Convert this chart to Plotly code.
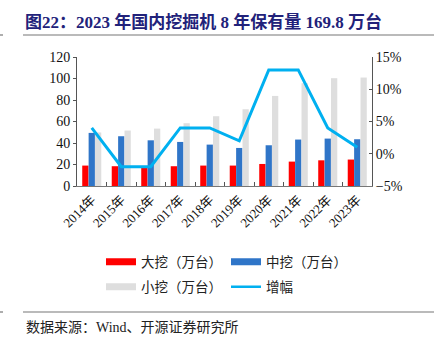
import plotly.graph_objects as go

years = ["2014年", "2015年", "2016年", "2017年", "2018年", "2019年", "2020年", "2021年", "2022年", "2023年"]
large = [19.0, 18.4, 17.8, 18.4, 19.0, 19.0, 20.5, 22.7, 23.9, 24.6]
medium = [49.4, 46.3, 42.5, 41.0, 38.5, 35.4, 37.9, 43.2, 44.1, 43.5]
small = [49.8, 51.6, 53.4, 58.4, 64.9, 71.4, 83.8, 95.6, 100.3, 100.9]
growth = [4.0, -2.0, -2.0, 4.0, 4.0, 2.0, 13.0, 13.0, 4.0, 1.0]

names = ["大挖（万台）", "中挖（万台）", "小挖（万台）", "增幅"]
colors = ["#FF0000", "#2F75C8", "#DEDEDE", "#00B0F0"]

# plot area in pixels
L, R, T, B = 77, 372, 57, 186
W, H = R - L, B - T
def px(x):
    return (x - L) / W
def py(y):
    return (B - y) / H

serif = "Liberation Serif, Noto Sans CJK SC, serif"
cjk = "Noto Sans CJK SC, sans-serif"

fig = go.Figure()
for vals, nm, col in zip([large, medium, small], names[:3], colors[:3]):
    fig.add_trace(go.Bar(x=years, y=vals, name=nm, marker=dict(color=col, line=dict(width=0)),
                         showlegend=False))
fig.add_trace(go.Scatter(x=years, y=growth, name=names[3], mode="lines", yaxis="y2",
                         line=dict(color=colors[3], width=3), showlegend=False))

# legend entries (rectangular swatches like the reference), one legend per entry
legend_ids = ["legend", "legend2", "legend3", "legend4"]
legend_pos = [(101, 262), (226, 262), (101, 287), (226, 287)]
for nm, col, lg, i in zip(names, colors, legend_ids, range(4)):
    fig.add_trace(go.Scatter(x=[None], y=[None], name=nm, mode="lines",
                             line=dict(color=col, width=7 if i < 3 else 2.5),
                             legend=lg, showlegend=True, hoverinfo="skip"))

legend_common = dict(orientation="h", xanchor="left", yanchor="middle", itemwidth=30,
                     bgcolor="rgba(0,0,0,0)", font=dict(family=cjk, size=13.5, color="#222"))
legends = {}
for lg, (lx, ly) in zip(legend_ids, legend_pos):
    legends[lg] = dict(x=px(lx), y=py(ly), **legend_common)

fig.update_layout(
    width=434, height=345,
    margin=dict(l=L, r=434 - R, t=T, b=345 - B),
    paper_bgcolor="white", plot_bgcolor="white",
    barmode="group", bargap=0.35, bargroupgap=0.02,
    title=dict(text="<b>图22：2023 年国内挖掘机 8 年保有量 169.8 万台</b>",
               font=dict(family="Liberation Serif, Noto Sans CJK SC, serif", size=17, color="#22227A"),
               xref="container", yref="container", x=25 / 434, y=1 - 22 / 345,
               xanchor="left", yanchor="middle"),
    xaxis=dict(type="category", tickangle=-45, tickson="boundaries", ticks="inside", ticklen=4,
               tickcolor="#555", showline=True, linecolor="#777", linewidth=1,
               tickfont=dict(family=serif, size=13, color="#111"), showgrid=False),
    yaxis=dict(range=[0, 120], dtick=20, showline=True, linecolor="#555", linewidth=1,
               ticks="outside", ticklen=3, tickcolor="#555", showgrid=False, zeroline=False,
               tickfont=dict(family=serif, size=14, color="#111")),
    yaxis2=dict(range=[-5, 15], dtick=5, overlaying="y", side="right", showline=True,
                linecolor="#555", linewidth=1, ticks="inside", ticklen=3, tickcolor="#555",
                showgrid=False, zeroline=False, ticksuffix="%",
                tickfont=dict(family=serif, size=14, color="#111")),
    showlegend=True,
    **legends,
)

# header / footer rules
for yy in (35, 312):
    fig.add_shape(type="line", xref="paper", yref="paper", x0=px(23), x1=px(434), y0=py(yy), y1=py(yy),
                  line=dict(color="#777", width=1.2))
    fig.add_shape(type="line", xref="paper", yref="paper", x0=px(0), x1=px(3), y0=py(yy), y1=py(yy),
                  line=dict(color="#777", width=1.2))

fig.add_annotation(text="数据来源：Wind、开源证券研究所", xref="paper", yref="paper",
                   x=px(24), y=py(327), xanchor="left", yanchor="middle", showarrow=False,
                   font=dict(family="Liberation Serif, Noto Sans CJK SC, serif", size=14, color="#222"))

fig.write_html("out.html")
